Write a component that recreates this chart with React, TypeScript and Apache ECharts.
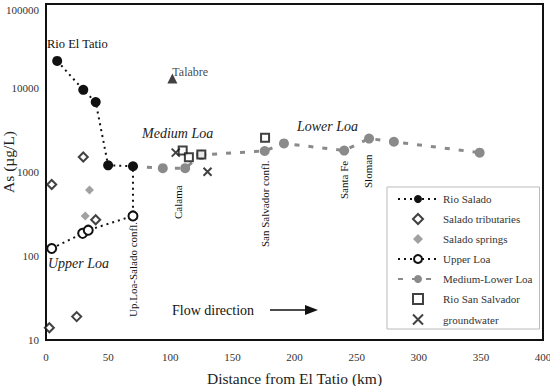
import React, { useEffect, useRef } from "react";
import * as echarts from "echarts";

const rioSalado: number[][] = [[9, 21000], [30, 9500], [40, 6800], [50, 1200], [70, 1170]];
const saladoTributaries: number[][] = [[4.6, 710], [30, 1510], [40, 270], [2.7, 14], [24.7, 19]];
const saladoSprings: number[][] = [[35, 610], [31.6, 300]];
const upperLoa: number[][] = [[4.6, 123], [29.5, 186], [34, 203], [70, 300]];
const upperLoaJoin: number[] = [70, 1170];
const mediumLowerLoaStart: number[] = [70, 1170];
const mediumLowerLoa: number[][] = [[94, 1110], [112, 1110], [125, 1600], [176, 1780], [191.5, 2190], [240, 1800], [260, 2500], [280, 2290], [349, 1700]];
const rioSanSalvador: number[][] = [[110, 1800], [115, 1500], [125, 1620], [176.3, 2560]];
const groundwater: number[][] = [[104.4, 1700], [130, 1005]];
const talabre: number[][] = [[101.7, 13000]];
const xTicks = { min: 0, max: 400, interval: 50 };
const yRange = { min: 10, max: 100000 };

const SERIF = "'Liberation Serif', 'Times New Roman', Times, 'DejaVu Serif', serif";
const GRAY = "#8a8a8a";
const DIAMOND = "path://M5,0L10,5L5,10L0,5Z";
const SQUARE = "path://M0,0L10,0L10,10L0,10Z";
const CROSS = "path://M0,0L10,10M10,0L0,10";

export default function App() {
  const ref = useRef<HTMLDivElement>(null);
  useEffect(() => {
    if (!ref.current) return;
    const chart = echarts.init(ref.current, undefined, { renderer: "svg" });
    const vText = (text: string, x: number, y: number) => ({
      type: "text",
      x,
      y,
      rotation: Math.PI / 2,
      style: { text, fontFamily: SERIF, fontSize: 11, fill: "#111", align: "left", verticalAlign: "middle" },
    });
    const iText = (text: string, x: number, y: number) => ({
      type: "text",
      x,
      y,
      style: { text, fontFamily: SERIF, fontSize: 14, fontStyle: "italic", fontWeight: "normal", fill: "#222", align: "left", verticalAlign: "middle" },
    });
    chart.setOption({
      animation: false,
      backgroundColor: "#fff",
      grid: {
        left: 46, right: 7, top: 4, bottom: 46,
        containLabel: false, outerBoundsMode: "none",
        show: true, borderColor: "#111", borderWidth: 2,
      },
      xAxis: {
        type: "value",
        min: xTicks.min,
        max: xTicks.max,
        interval: xTicks.interval,
        name: "Distance from El Tatio (km)",
        nameLocation: "middle",
        nameGap: 30,
        nameMoveOverlap: false,
        nameTextStyle: { fontFamily: SERIF, fontSize: 15.5, color: "#222" },
        axisLine: { lineStyle: { color: "#111", width: 2 } },
        axisTick: { show: false },
        splitLine: { show: false },
        axisLabel: { fontFamily: SERIF, fontSize: 11, color: "#333", margin: 11 },
      },
      yAxis: {
        type: "log",
        logBase: 10,
        min: yRange.min,
        max: yRange.max,
        name: "As (µg/L)",
        nameLocation: "middle",
        nameGap: 30,
        nameMoveOverlap: false,
        nameTextStyle: { fontFamily: SERIF, fontSize: 15.5, color: "#222", padding: [0, 0, 0, 20] },
        axisLine: { show: true, lineStyle: { color: "#111", width: 2 } },
        axisTick: { show: false },
        minorTick: { show: false },
        splitLine: { show: false },
        axisLabel: {
          fontFamily: SERIF, fontSize: 11, color: "#333", margin: 7,
          verticalAlignMaxLabel: "top",
          formatter: (v: number) => String(Math.round(v)),
        },
      },
      legend: {
        orient: "vertical",
        left: 387,
        top: 187,
        itemWidth: 40,
        itemHeight: 10,
        itemGap: 6,
        padding: [5, 7, 2, 10],
        backgroundColor: "#fff",
        borderColor: "#bbb",
        borderWidth: 1,
        textStyle: { fontFamily: SERIF, fontSize: 11, color: "#333", lineHeight: 14, height: 14 },
        data: ["Rio Salado", "Salado tributaries", "Salado springs", "Upper Loa", "Medium-Lower Loa", "Rio San Salvador", "groundwater"],
      },
      series: [
        {
          name: "Medium-Lower Loa",
          type: "line",
          data: [{ value: mediumLowerLoaStart, symbol: "none" }, ...mediumLowerLoa],
          symbol: "circle",
          symbolSize: 10,
          itemStyle: { color: GRAY },
          lineStyle: { color: GRAY, width: 3, type: [5, 9] },
          z: 2,
        },
        {
          name: "Upper Loa",
          type: "line",
          data: [...upperLoa, { value: upperLoaJoin, symbol: "none" }],
          symbol: "circle",
          symbolSize: 9,
          itemStyle: { color: "#fff", borderColor: "#111", borderWidth: 2 },
          lineStyle: { color: "#111", width: 2, type: [2, 4] },
          z: 3,
        },
        {
          name: "Rio Salado",
          type: "line",
          data: rioSalado,
          symbol: "circle",
          symbolSize: 10,
          itemStyle: { color: "#111" },
          lineStyle: { color: "#111", width: 2, type: [2, 4] },
          z: 4,
        },
        {
          name: "Salado tributaries",
          type: "scatter",
          data: saladoTributaries,
          symbol: DIAMOND,
          symbolSize: 9,
          symbolKeepAspect: true,
          itemStyle: { color: "#fff", borderColor: "#111", borderWidth: 2 },
          z: 5,
        },
        {
          name: "Salado springs",
          type: "scatter",
          data: saladoSprings,
          symbol: DIAMOND,
          symbolSize: 9,
          symbolKeepAspect: true,
          itemStyle: { color: GRAY },
          z: 5,
        },
        {
          name: "Rio San Salvador",
          type: "scatter",
          data: rioSanSalvador,
          symbol: SQUARE,
          symbolSize: 8,
          symbolKeepAspect: true,
          itemStyle: { color: "#fff", borderColor: "#111", borderWidth: 2 },
          z: 6,
        },
        {
          name: "groundwater",
          type: "scatter",
          data: groundwater,
          symbol: CROSS,
          symbolSize: 8,
          symbolKeepAspect: true,
          itemStyle: { color: "none", borderColor: "#111", borderWidth: 2 },
          z: 6,
        },
        {
          name: "Talabre",
          type: "scatter",
          data: talabre,
          symbol: "triangle",
          symbolSize: 10,
          itemStyle: { color: "#111" },
          label: {
            show: true,
            formatter: "Talabre",
            position: [5, -1],
            align: "left",
            verticalAlign: "middle",
            fontFamily: SERIF,
            fontSize: 12,
            color: "#111",
          },
          z: 6,
        },
      ],
      graphic: [
        { type: "text", x: 47, y: 44, style: { text: "Rio El Tatio", fontFamily: SERIF, fontSize: 12.5, fill: "#111", align: "left", verticalAlign: "middle" } },
        iText("Medium Loa", 142, 133),
        iText("Lower Loa", 297, 126),
        iText("Upper Loa", 48, 263),
        vText("Up.Loa-Salado confl.", 133, 317),
        vText("Calama", 178, 219),
        vText("San Salvador confl.", 265, 247),
        vText("Santa Fe", 344, 199),
        vText("Sloman", 368, 188),
        { type: "text", x: 172, y: 310, style: { text: "Flow direction", fontFamily: SERIF, fontSize: 14, fill: "#111", align: "left", verticalAlign: "middle" } },
        { type: "line", shape: { x1: 270, y1: 310, x2: 308, y2: 310 }, style: { stroke: "#111", lineWidth: 1.5 } },
        { type: "polygon", shape: { points: [[305, 305], [318, 310], [305, 315]] }, style: { fill: "#111" } },
      ],
    });
    return () => chart.dispose();
  }, []);
  return <div ref={ref} style={{ position: "fixed", left: 0, top: 0, width: 550, height: 386 }} />;
}
